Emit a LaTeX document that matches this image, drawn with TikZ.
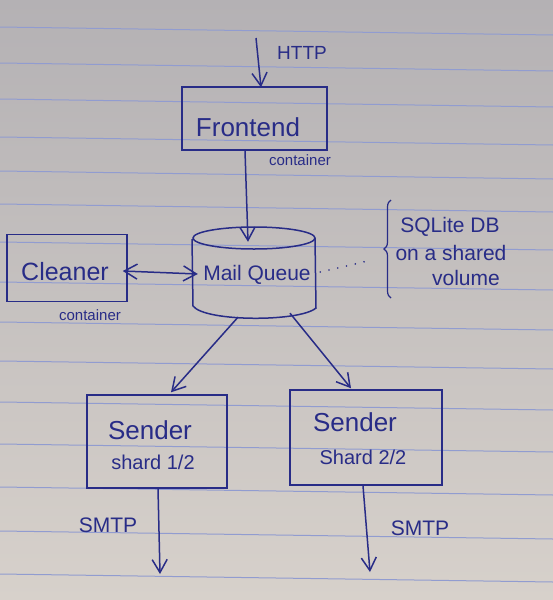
\documentclass[tikz,border=0pt]{standalone}
\usepackage{fontspec}
\setmainfont{Liberation Sans}
\usetikzlibrary{arrows.meta,decorations.pathreplacing}
\definecolor{ink}{RGB}{40,44,135}
\definecolor{rule}{RGB}{145,156,208}
\definecolor{papertop}{RGB}{180,177,180}
\definecolor{papermid}{RGB}{206,201,198}
\definecolor{paperbot}{RGB}{215,209,203}
\newcommand{\fs}[1]{\fontsize{#1}{#1}\selectfont}
\begin{document}
\begin{tikzpicture}[x=1pt,y=-1pt,
  pen/.style={draw=ink,line width=1.5pt},
  box/.style={pen,rectangle,inner sep=0pt},
  lbl/.style={text=ink,inner sep=0pt},
  tip/.tip={Straight Barb[length=13pt,width=15pt]},
  arr/.style={pen,-tip},
  darr/.style={pen,tip-tip}]
\shade[top color=papertop,middle color=papermid,bottom color=paperbot] (0,0) rectangle (553,600);
\useasboundingbox (0,0) rectangle (553,600);
\foreach \y in {27,63,99,137,171,204,242,282,322,361,402,444,487,531,574}
  \draw[rule,line width=1pt] (0,\y) -- (553,\y+8);

% boxes
\node[box,minimum width=145pt,minimum height=63pt] (fe) at (254.5,118.5) {};
\node[lbl,font=\fs{26}] (fet) at (248,127) {Frontend};
\node[lbl,font=\fs{15}] (fec) at (300,160) {container};

\node[box,minimum width=120pt,minimum height=67pt] (cl) at (67,268) {};
\node[lbl,font=\fs{25}] (clt) at (65,272) {Cleaner};
\node[lbl,font=\fs{15}] (clc) at (90,315) {container};

% cylinder
\node[minimum width=124pt,minimum height=90pt,inner sep=0pt] (mq) at (254,273) {};
\draw[pen] (254,238) ellipse [x radius=61, y radius=11];
\draw[pen] (192,239) -- (193,306) .. controls (205,322) and (300,322) .. (316,308) -- (315,238);
\node[lbl,font=\fs{21}] (mqt) at (257,275) {Mail Queue};

\node[box,minimum width=140pt,minimum height=93pt] (s1) at (157,441.5) {};
\node[lbl,font=\fs{26}] (s1a) at (150,430) {Sender};
\node[lbl,font=\fs{20}] (s1b) at (153,462) {shard 1/2};

\node[box,minimum width=152pt,minimum height=95pt] (s2) at (366,437.5) {};
\node[lbl,font=\fs{26}] (s2a) at (355,422) {Sender};
\node[lbl,font=\fs{20}] (s2b) at (363,457) {Shard 2/2};

% note
\node[lbl,font=\fs{21}] (n1) at (450,227) {SQLite DB};
\node[lbl,font=\fs{21}] (n2) at (451,253) {on a shared};
\node[lbl,font=\fs{21}] (n3) at (466,278) {volume};
\coordinate (bbot) at (391,298);
\coordinate (btop) at (391,200);
\draw[pen,line width=1.2pt,decorate,decoration={brace,amplitude=7pt}] (bbot) -- (btop);
\coordinate (dotend) at (372,260);
\draw[draw=ink,line width=1.8pt,line cap=round,dash pattern=on 0pt off 9pt] ([shift={(4,-1)}]mq.east) -- (dotend);

% connectors
\coordinate (http) at (256,38);
\node[lbl,font=\fs{19}] (httpl) at (302,53) {HTTP};
\draw[arr] (http) -- ([shift={(6.5,1)}]fe.north);
\draw[arr] ([shift={(-9.5,0)}]fe.south) -- ([shift={(-6,14)}]mq.north);
\draw[darr] ([shift={(-5,3)}]cl.east) -- ([shift={(6,1)}]mq.west);
\draw[arr] ([shift={(-16,-1)}]mq.south) -- ([shift={(14,-2)}]s1.north);
\draw[arr] ([shift={(36,-5)}]mq.south) -- ([shift={(-15,-1)}]s2.north);

\coordinate (smtp1) at (160,574);
\coordinate (smtp2) at (370,572);
\draw[arr] ([shift={(1,0)}]s1.south) -- (smtp1);
\draw[arr] ([shift={(-3,0)}]s2.south) -- (smtp2);
\node[lbl,font=\fs{21}] (sm1) at (108,525) {SMTP};
\node[lbl,font=\fs{21}] (sm2) at (420,528) {SMTP};
\end{tikzpicture}
\end{document}
